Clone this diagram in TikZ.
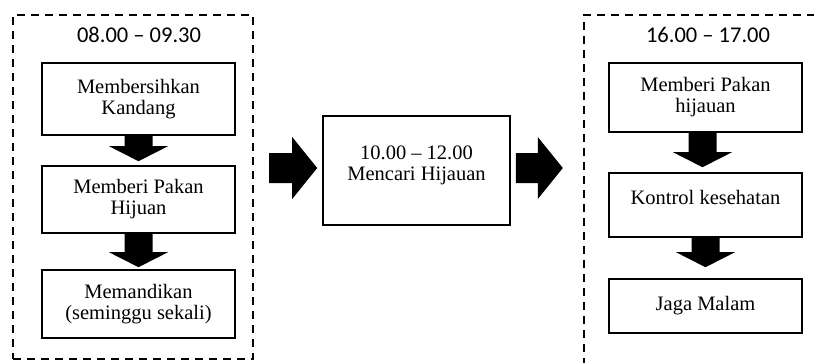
\documentclass[tikz,border=0pt]{standalone}
\usepackage{fontspec}
\setmainfont{Liberation Serif}
\newfontfamily\timefont{Carlito}
\usetikzlibrary{calc}

% filled block arrow pointing right: #1 = back end (centre line), #2 = tip
\newcommand\blockarrowR[2]{%
  \fill let \p1=(#1), \p2=(#2) in
    (\x1,\y1+15pt) -- (\x2-25pt,\y1+15pt) -- (\x2-25pt,\y1+31pt) -- (\x2,\y1)
    -- (\x2-25pt,\y1-31pt) -- (\x2-25pt,\y1-15pt) -- (\x1,\y1-15pt) -- cycle;}
% filled block arrow pointing down: #1 = top of stem, #2 = tip
\newcommand\blockarrowD[2]{%
  \fill let \p1=(#1), \p2=(#2) in
    (\x1-14pt,\y1) -- (\x1-14pt,\y2+15pt) -- (\x1-29.5pt,\y2+15pt) -- (\x1,\y2)
    -- (\x1+29.5pt,\y2+15pt) -- (\x1+14pt,\y2+15pt) -- (\x1+14pt,\y1) -- cycle;}

\tikzset{
  frame/.style={draw, line width=2.4pt, dash pattern=on 8pt off 6pt, inner sep=0pt},
  task/.style={draw, line width=1.6pt, minimum width=193pt, inner sep=0pt,
    align=center, font=\fontsize{20.5}{21}\selectfont},
  tasktext/.style={align=center, inner sep=0pt, font=\fontsize{20.5}{21}\selectfont},
  timelabel/.style={inner sep=0pt, font=\timefont\fontsize{22.5}{24}\selectfont},
}

\begin{document}
\begin{tikzpicture}[x=1pt, y=-1pt]
\useasboundingbox (0,0) rectangle (814,362);
\clip (0,0) rectangle (814,362);

% morning block
\node[frame, minimum width=240pt, minimum height=344pt] (lframe) at (133,187) {};
\node[timelabel] (ltime) at (139,35) {08.00 – 09.30};
\node[task, minimum height=72pt] (l1) at (138.5,99) {Membersihkan\\Kandang};
\node[task, minimum height=67pt] (l2) at (138.5,199.5) {Memberi Pakan\\Hijuan};
\node[task, minimum height=68pt] (l3) at (138.5,304) {Memandikan\\(seminggu sekali)};

% midday task
\node[draw, line width=1.6pt, minimum width=187pt, minimum height=109pt, inner sep=0pt]
  (mid) at (416.5,170.5) {};
\node[tasktext] (midtxt) at ($(mid.center)+(0,-5.5)$) {10.00 – 12.00\\Mencari Hijauan};

% afternoon block
\node[frame, minimum width=246pt, minimum height=355pt] (rframe) at (707,192.5) {};
\node[timelabel] (rtime) at (708,35) {16.00 – 17.00};
\node[task, minimum height=69pt] (r1) at (705.5,97.5) {Memberi Pakan\\hijauan};
\node[task, minimum height=64pt] (r2) at (705.5,205) {};
\node[tasktext] (r2txt) at ($(r2.center)+(0,-8)$) {Kontrol kesehatan};
\node[task, minimum height=54pt] (r3) at (705.5,306) {Jaga Malam};

% arrows between the blocks
\coordinate (a1s) at ($(lframe.east|-mid.center)+(15,-2.5)$);
\coordinate (a1e) at ($(mid.west)+(-5,-2.5)$);
\blockarrowR{a1s}{a1e}
\coordinate (a2s) at ($(mid.east)+(5,-2.5)$);
\coordinate (a2e) at ($(rframe.west|-mid.center)+(-20,-2.5)$);
\blockarrowR{a2s}{a2e}

% arrows inside the blocks
\blockarrowD{l1.south}{$(l2.north)+(0,-4)$}
\blockarrowD{l2.south}{$(l3.north)+(0,-2)$}
\blockarrowD{$(r1.south)+(-3,0)$}{$(r2.north)+(-3,-5)$}
\blockarrowD{r2.south}{$(r3.north)+(0,-11)$}
\end{tikzpicture}
\end{document}
